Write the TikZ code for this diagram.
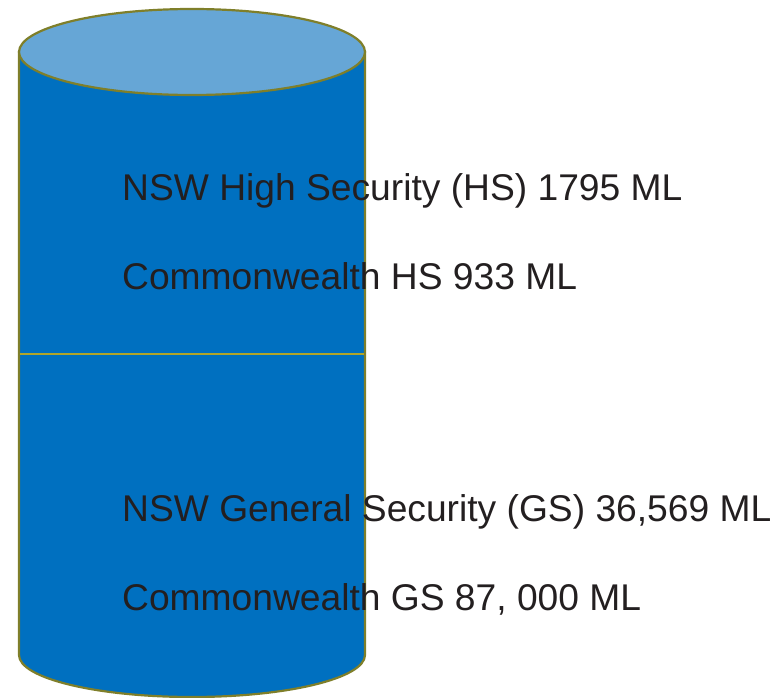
\documentclass[tikz,border=0pt]{standalone}
\usepackage{fontspec}
\setmainfont{Liberation Sans}
\definecolor{bodyblue}{HTML}{0070C0}
\definecolor{topblue}{HTML}{66A6D6}
\definecolor{olive}{HTML}{7F7F2A}
\definecolor{midline}{HTML}{B0A52A}
\definecolor{txt}{HTML}{231F20}
\tikzset{
  cyl/.style={draw=olive, line width=2.2bp, fill=bodyblue},
  captop/.style={draw=olive, line width=2.2bp, fill=topblue},
  label/.style={anchor=base west, inner sep=0pt, text=txt, font=\fontsize{37.2bp}{40bp}\selectfont}
}
\begin{document}
\begin{tikzpicture}[x=1bp,y=-1bp]
\useasboundingbox (0,0) rectangle (782,698);
\draw[cyl] (19,52) -- (19,655) arc[start angle=180, end angle=0, x radius=173, y radius=42] -- (365,52) -- cycle;
\draw[captop] (192,52) ellipse[x radius=173, y radius=43];
\coordinate (ml) at (20,354);
\coordinate (mr) at (364,354);
\draw[midline, line width=1.5bp] (ml) -- (mr);
\node[label] (t1) at (122,200) {NSW High Security (HS) 1795 ML};
\node[label] (t2) at (122,289) {Commonwealth HS 933 ML};
\node[label] (t3) at (122,521) {NSW General Security (GS) 36,569 ML};
\node[label] (t4) at (122,610) {Commonwealth GS 87, 000 ML};
\end{tikzpicture}
\end{document}
